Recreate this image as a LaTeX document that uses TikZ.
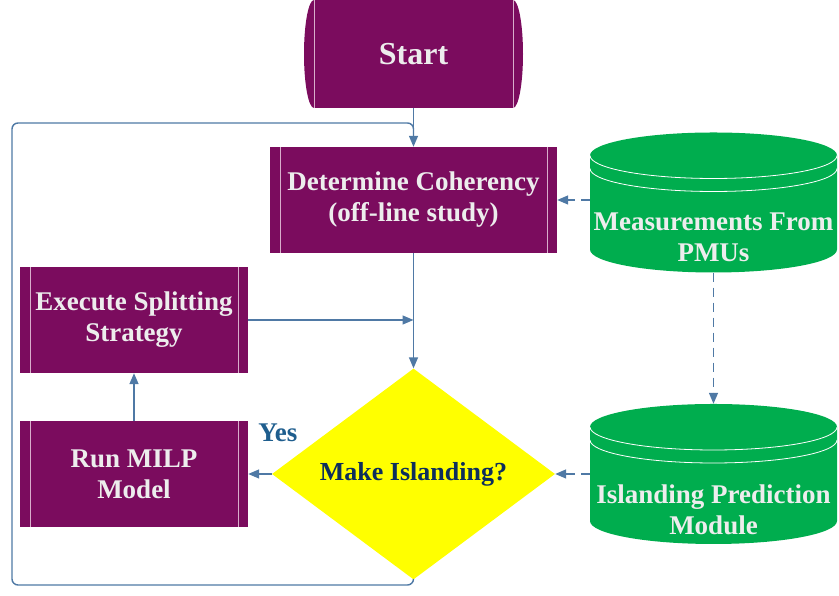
\documentclass[tikz,border=0pt]{standalone}
\usepackage{fontspec}
\setmainfont{Liberation Serif}
\usetikzlibrary{positioning, shapes.geometric, arrows.meta, calc}

\definecolor{procpurple}{HTML}{7B0C5E}
\definecolor{dbgreen}{HTML}{00AD4E}
\definecolor{flowblue}{HTML}{4F79A5}
\definecolor{boxtext}{HTML}{EDEDED}
\definecolor{boxline}{HTML}{D8AECB}
\definecolor{asknavy}{HTML}{0D2E5C}
\definecolor{askyellow}{HTML}{FFFF00}
\definecolor{yesblue}{HTML}{1F5E8E}

\begin{document}
\begin{tikzpicture}[
                x=1pt, y=1pt,
                boxfont/.style={font=\bfseries\fontsize{27}{31}\selectfont},
                procbox/.style={
                    rectangle,
                    fill=procpurple,
                    inner sep=0pt,
                    minimum width=228pt,
                    minimum height=106pt,
                    boxfont,
                    text=boxtext,
                    align=center,
                    path picture={
                        \draw[boxline, line width=0.8pt]
                            ([xshift=10pt]path picture bounding box.north west) --
                            ([xshift=10pt]path picture bounding box.south west)
                            ([xshift=-10pt]path picture bounding box.north east) --
                            ([xshift=-10pt]path picture bounding box.south east);
                    }
                },
                terminal/.style={
                    rectangle,
                    inner sep=0pt,
                    minimum width=219pt,
                    minimum height=108pt,
                    font=\bfseries\fontsize{32}{38}\selectfont,
                    text=boxtext,
                    path picture={
                        \coordinate (tnw) at ([xshift=10pt]path picture bounding box.north west);
                        \coordinate (tse) at ([xshift=-10pt]path picture bounding box.south east);
                        \fill[procpurple] (tnw) -- (tnw -| tse)
                            arc[start angle=90, end angle=-90, x radius=10pt, y radius=54pt]
                            -- (tnw |- tse)
                            arc[start angle=270, end angle=90, x radius=10pt, y radius=54pt]
                            -- cycle;
                        \draw[boxline, line width=0.8pt]
                            (tnw) -- (tnw |- tse) (tse) -- (tnw -| tse);
                    }
                },
                cylbox/.style={
                    rectangle,
                    inner sep=0pt,
                    minimum width=247pt,
                    minimum height=140pt,
                    path picture={
                        \coordinate (cnw) at (path picture bounding box.north west);
                        \coordinate (cse) at (path picture bounding box.south east);
                        \fill[dbgreen] ($(cnw)+(0,-23)$)
                            arc[start angle=180, end angle=0, x radius=123.5pt, y radius=23pt]
                            -- ($(cse)+(0,23)$)
                            arc[start angle=0, end angle=-180, x radius=123.5pt, y radius=23pt]
                            -- cycle;
                        \draw[white, line width=0.8pt]
                            ($(cnw)+(0,-23)$)
                            arc[start angle=180, end angle=360, x radius=123.5pt, y radius=23pt]
                            ($(cnw)+(0,-36)$)
                            arc[start angle=180, end angle=360, x radius=123.5pt, y radius=23pt];
                    }
                },
                cyltext/.style={boxfont, text=boxtext, align=center},
                decision/.style={
                    diamond,
                    fill=askyellow,
                    inner sep=0pt,
                    minimum width=283pt,
                    minimum height=204pt,
                    text=asknavy,
                    font=\bfseries\fontsize{26}{31}\selectfont
                },
                yeslabel/.style={
                    inner sep=2pt,
                    text=yesblue,
                    font=\bfseries\fontsize{27}{31}\selectfont
                },
                flowline/.style={draw=flowblue, line width=1.4pt},
                flow/.style={flowline, -{Triangle[length=11pt, width=9pt]}}
            ]
            \useasboundingbox (0,0) rectangle (839,596);

            % main column
            \node[terminal] (start) at (413.5,542) {Start};
            \node[procbox, minimum width=287pt] (coher) at (413.5,396)
                {Determine Coherency\\(off-line study)};
            \node[decision] (ask) at (413.5,122) {Make Islanding?};

            % left column
            \node[procbox] (split) at (134,276) {Execute Splitting\\Strategy};
            \node[procbox] (milp) at (134,122) {Run MILP\\Model};
            \node[yeslabel, above right=30pt and 8pt of milp.east] (yes) {Yes};

            % right column
            \node[cylbox, label={[cyltext, yshift=-35pt]center:{Measurements From\\PMUs}}]
                (pmu) at (713.5,393.5) {};
            \node[cylbox, label={[cyltext, yshift=-36pt]center:{Islanding Prediction\\Module}}]
                (ipm) at (713.5,122) {};

            % loop back
            \coordinate (loopbl) at (12,11);
            \coordinate (looptl) at (12,473);
            \draw[flowline, rounded corners=6pt]
                (ask.south) |- (loopbl) -- (looptl) -| ($(coher.north)+(0,6)$);

            % connectors
            \draw[flow] (start) -- (coher);
            \draw[flow] (coher) -- (ask);
            \draw[flow] (split.east) -- (split.east -| ask.north);
            \draw[flow] (milp) -- (split);
            \draw[flow] (ask) -- (milp);
            \draw[flow, dash pattern=on 9pt off 6pt] (pmu.west |- coher.east) -- (coher.east);
            \draw[flow, dash pattern=on 9pt off 6pt] (pmu) -- (ipm);
            \draw[flow, dash pattern=on 9pt off 6pt] (ipm) -- (ask);
            \end{tikzpicture}
\end{document}
